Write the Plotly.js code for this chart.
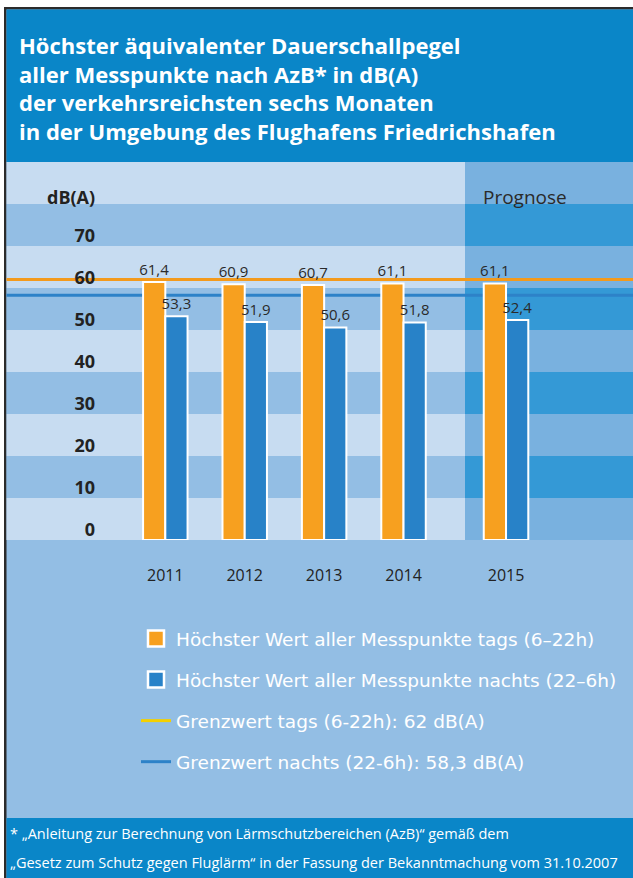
<!DOCTYPE html>
<html><head><meta charset="utf-8">
<script src="https://cdn.plot.ly/plotly-3.0.1.min.js"></script>
<style>html,body{margin:0;padding:0;background:#fff;overflow:hidden;} #chart{width:633px;height:878px;}</style>
</head><body><div id="chart"></div>
<script>
// ---- data ----
const years = ['2011', '2012', '2013', '2014', '2015'];
const tagsValues = [61.4, 60.9, 60.7, 61.1, 61.1];
const nachtsValues = [53.3, 51.9, 50.6, 51.8, 52.4];
const prognoseYears = ['2015'];
const limitValues = [62, 58.3];
const yTickValues = [0, 10, 20, 30, 40, 50, 60, 70];
const bandEdges = [0, 10, 20, 30, 40, 50, 60, 70, 80, 90];
const seriesNames = ['Höchster Wert aller Messpunkte tags (6–22h)', 'Höchster Wert aller Messpunkte nachts (22–6h)'];
const limitNames = ['Grenzwert tags (6-22h): 62 dB(A)', 'Grenzwert nachts (22-6h): 58,3 dB(A)'];
const titleLines = ['Höchster äquivalenter Dauerschallpegel', 'aller Messpunkte nach AzB* in dB(A)', 'der verkehrsreichsten sechs Monaten', 'in der Umgebung des Flughafens Friedrichshafen'];
const footnoteLines = ['* „Anleitung zur Berechnung von Lärmschutzbereichen (AzB)“ gemäß dem', '„Gesetz zum Schutz gegen Fluglärm“ in der Fassung der Bekanntmachung vom 31.10.2007'];
const unitLabel = 'dB(A)';
const prognoseLabel = 'Prognose';

// ---- styling ----
const W = 633, H = 878;
const px = x => x / W;
const py = y => 1 - y / H;
const FONT = '"Open Sans", Lato, sans-serif';
const LEG_FONT = '"DejaVu Sans", "Open Sans", sans-serif';
const ORANGE = '#f7a01f', BLUE = '#2882c8';
const LINE_ORANGE = '#f39a1c', LINE_BLUE = '#2d82c8';
const LEG_YELLOW = '#f4d000';
const HEADER = '#0a86c8';
const LIGHT = '#c7dcf1', MED = '#93bee4';
const P_LIGHT = '#79b1df', P_MED = '#3499d6';
const fmt = v => v.toFixed(1).replace('.', ',');

const isProg = y => prognoseYears.includes(y);
const pick = (arr, prog) => arr.filter((_, i) => isProg(years[i]) === prog);

function barTrace(vals, prog, color, xa) {
  const xs = pick(years, prog), ys = pick(vals, prog);
  return {
    type: 'bar', x: xs, y: ys, xaxis: xa, yaxis: 'y',
    marker: {color: color, line: {color: '#ffffff', width: 2}},
    text: ys.map(fmt), textposition: 'outside', constraintext: 'none', cliponaxis: false,
    textfont: {family: FONT, size: 15, color: '#2a2a2a'},
    showlegend: false, hoverinfo: 'skip'
  };
}

const traces = [
  barTrace(tagsValues, false, ORANGE, 'x'),
  barTrace(nachtsValues, false, BLUE, 'x'),
  barTrace(tagsValues, true, ORANGE, 'x2'),
  barTrace(nachtsValues, true, BLUE, 'x2'),
  // legend proxies
  {type: 'scatter', mode: 'markers', x: [null], y: [null], name: seriesNames[0], legendgroup: 'a',
   marker: {symbol: 'square', size: 16, color: ORANGE, line: {color: '#fff', width: 2.5}}},
  {type: 'scatter', mode: 'markers', x: [null], y: [null], name: seriesNames[1], legendgroup: 'b',
   marker: {symbol: 'square', size: 16, color: BLUE, line: {color: '#fff', width: 2.5}}},
  {type: 'scatter', mode: 'lines', x: [null], y: [null], name: limitNames[0], legendgroup: 'c',
   line: {color: LEG_YELLOW, width: 3}},
  {type: 'scatter', mode: 'lines', x: [null], y: [null], name: limitNames[1], legendgroup: 'd',
   line: {color: LINE_BLUE, width: 3}}
];

const shapes = [];
const rect = (x0, x1, y0, y1, color, xref = 'paper', yref = 'paper') =>
  shapes.push({type: 'rect', xref: xref, yref: yref, x0: x0, x1: x1, y0: y0, y1: y1,
               fillcolor: color, line: {width: 0}, layer: 'below'});
rect(px(4), 1.01, -0.01, py(7), '#2b2b2b');
rect(px(6.5), 1.01, -0.01, py(9.5), MED);
rect(px(6.5), 1.01, py(162), py(9.5), HEADER);
rect(px(6.5), 1.01, -0.01, py(818), HEADER);
for (let k = 0; k < bandEdges.length - 1; k++) {
  const even = k % 2 === 0;
  rect(px(6.5), px(465), bandEdges[k], bandEdges[k + 1], even ? LIGHT : MED, 'paper', 'y');
  rect(px(465), 1.01, bandEdges[k], bandEdges[k + 1], even ? P_LIGHT : P_MED, 'paper', 'y');
}
[LINE_ORANGE, LINE_BLUE].forEach((c, i) => shapes.push({
  type: 'line', xref: 'paper', yref: 'y', x0: px(6.5), x1: 1.01, y0: limitValues[i], y1: limitValues[i],
  line: {color: c, width: 3}, layer: 'below'
}));

const annotations = [];
annotations.push({
  xref: 'paper', yref: 'paper', x: px(17), y: py(88), xanchor: 'left', yanchor: 'middle', align: 'left',
  text: titleLines.map(t => '<b>' + t + '</b>').join('<br>'), showarrow: false,
  font: {family: FONT, size: 22, color: '#ffffff'}
});
annotations.push({xref: 'paper', yref: 'paper', x: px(97), y: py(197), xanchor: 'right', yanchor: 'middle',
  text: '<b>' + unitLabel + '</b>', showarrow: false, font: {family: FONT, size: 18, color: '#222'}});
annotations.push({xref: 'paper', yref: 'paper', x: px(481), y: py(197), xanchor: 'left', yanchor: 'middle',
  text: prognoseLabel, showarrow: false, font: {family: FONT, size: 19, color: '#2a2a2a'}});
footnoteLines.forEach((t, i) => annotations.push({
  xref: 'paper', yref: 'paper', x: px(8), y: py(833 + i * 29), xanchor: 'left', yanchor: 'middle',
  text: t, showarrow: false, font: {family: FONT, size: 14.5, color: '#ffffff'}
}));

const xStyle = {
  type: 'category', showgrid: false, zeroline: false, showline: false, ticks: '',
  tickfont: {family: FONT, size: 16, color: '#222'}, ticklabelstandoff: 24, fixedrange: true
};

const layout = {
  width: W, height: H, margin: {l: 0, r: 0, t: 0, b: 0, pad: 0},
  paper_bgcolor: '#ffffff', plot_bgcolor: 'rgba(0,0,0,0)',
  barmode: 'group', bargap: 0.44, bargroupgap: 0,
  xaxis: Object.assign({}, xStyle, {domain: [px(6.5), px(465)], range: [-2.0, 3.774], anchor: 'y'}),
  xaxis2: Object.assign({}, xStyle, {domain: [px(465), 1], range: [-0.516, 1.597], anchor: 'y'}),
  yaxis: {domain: [py(540), py(162)], range: [0, 90], anchor: 'free', position: px(95),
          tickvals: yTickValues, showgrid: false, zeroline: false, showline: false, ticks: '',
          tickfont: {family: FONT, size: 18, color: '#222', weight: 'bold'}, ticklabelshift: -10, fixedrange: true},
  showlegend: true,
  legend: {x: px(136), y: py(620), xanchor: 'left', yanchor: 'top', bgcolor: 'rgba(0,0,0,0)',
           font: {family: LEG_FONT, size: 18.5, color: '#ffffff'}, traceorder: 'grouped', tracegroupgap: 14,
           itemwidth: 30},
  shapes: shapes, annotations: annotations
};

Plotly.newPlot('chart', traces, layout, {displayModeBar: false, staticPlot: true});
</script></body></html>
